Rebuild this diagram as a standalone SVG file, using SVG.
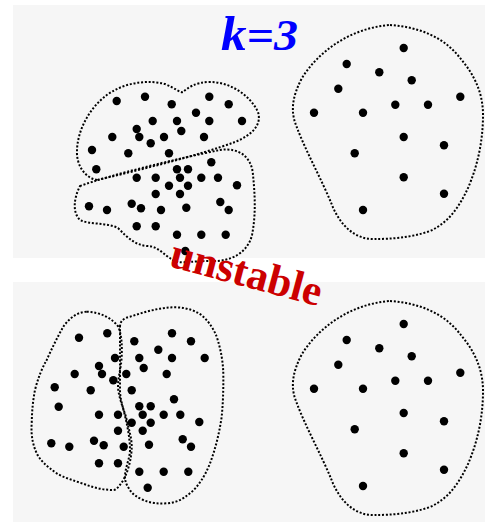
<svg xmlns="http://www.w3.org/2000/svg" xmlns:xlink="http://www.w3.org/1999/xlink" width="485" height="522" viewBox="0 0 485 522">
<style>
.panel{fill:#f6f6f6}
.hull{fill:none;stroke:#000;stroke-width:2;stroke-dasharray:2 1.8}
.pt circle{fill:#000}
.k{font-family:"Liberation Serif",serif;font-weight:bold;font-style:italic;fill:#0000ff}
.un{font-family:"Liberation Serif",serif;font-weight:bold;font-size:43px;fill:#cc0000}
</style>
<defs>
<g id="rightCluster">
<path class="hull" d="M390,25 C420,27 445,38 460,58 C472,72 483,90 483,115 C483,140 478,165 468,188 C460,205 450,222 430,231 C410,238 390,239 375,239 C355,240 340,225 332,205 C322,180 305,150 296,125 C290,110 293,95 302,78 C318,52 350,28 390,25 Z"/>
<g class="pt">
<circle cx="403.7" cy="48" r="4.2"/><circle cx="346.7" cy="64" r="4.2"/><circle cx="379.3" cy="72.3" r="4.2"/><circle cx="411.7" cy="80.3" r="4.2"/>
<circle cx="338.3" cy="88.7" r="4.2"/><circle cx="395.3" cy="104.7" r="4.2"/><circle cx="428" cy="104.7" r="4.2"/><circle cx="460.3" cy="96.7" r="4.2"/>
<circle cx="314" cy="112.7" r="4.2"/><circle cx="363" cy="112.7" r="4.2"/><circle cx="403.7" cy="137" r="4.2"/><circle cx="444" cy="145.3" r="4.2"/>
<circle cx="354.7" cy="153.3" r="4.2"/><circle cx="403.7" cy="177.3" r="4.2"/><circle cx="444" cy="193.7" r="4.2"/><circle cx="363" cy="210" r="4.2"/>
</g>
</g>
</defs>
<rect class="panel" x="13" y="5" width="472" height="253"/>
<rect class="panel" x="13" y="282" width="472" height="240"/>

<g id="top-left-clusters">
<path class="hull" d="M97,180 C85,178 76,165 77,150 C78,125 95,100 115,90 C130,82 150,80 165,84 C175,88 180,93 183,92 C188,88 195,82 210,82 C230,82 250,95 258,112 C262,125 252,135 235,142 C200,155 140,170 97,180 Z"/>
<path class="hull" d="M80,186 C110,175 180,158 220,150 C240,147 252,158 253,175 C255,195 256,215 252,235 C248,252 232,262 210,261 C195,261 185,263 178,262 C165,258 160,246 147,246 C135,245 128,238 118,228 C105,222 90,225 80,220 C72,212 74,198 80,186 Z"/>
<g class="pt">
<circle cx="116.7" cy="101" r="4.2"/><circle cx="145" cy="96.7" r="4.2"/><circle cx="171.7" cy="104.3" r="4.2"/><circle cx="209.3" cy="96.7" r="4.2"/>
<circle cx="228.7" cy="104.3" r="4.2"/><circle cx="196" cy="112.7" r="4.2"/><circle cx="152.7" cy="121" r="4.2"/><circle cx="177" cy="121" r="4.2"/>
<circle cx="209.3" cy="121" r="4.2"/><circle cx="242" cy="121" r="4.2"/><circle cx="136.7" cy="129" r="4.2"/><circle cx="181.3" cy="131" r="4.2"/>
<circle cx="112.3" cy="137" r="4.2"/><circle cx="139.3" cy="137" r="4.2"/><circle cx="164" cy="137" r="4.2"/><circle cx="204" cy="137" r="4.2"/>
<circle cx="150.7" cy="143.3" r="4.2"/><circle cx="92" cy="150" r="4.2"/><circle cx="128.3" cy="153.3" r="4.2"/><circle cx="169" cy="153.3" r="4.2"/>
<circle cx="96.3" cy="169.3" r="4.2"/>
<circle cx="211.3" cy="162.3" r="4.2"/><circle cx="177" cy="169.3" r="4.2"/><circle cx="188" cy="169.3" r="4.2"/><circle cx="136.7" cy="177.7" r="4.2"/>
<circle cx="155.7" cy="177.7" r="4.2"/><circle cx="180" cy="177.7" r="4.2"/><circle cx="201.3" cy="177.7" r="4.2"/><circle cx="218" cy="177.7" r="4.2"/>
<circle cx="237" cy="185.3" r="4.2"/><circle cx="169" cy="185.7" r="4.2"/><circle cx="188" cy="185.7" r="4.2"/><circle cx="155.7" cy="194" r="4.2"/>
<circle cx="180" cy="194" r="4.2"/><circle cx="89" cy="206.3" r="4.2"/><circle cx="107" cy="210" r="4.2"/><circle cx="131.7" cy="203.7" r="4.2"/>
<circle cx="141" cy="208.3" r="4.2"/><circle cx="161" cy="210" r="4.2"/><circle cx="186.3" cy="207.7" r="4.2"/><circle cx="220.3" cy="202" r="4.2"/>
<circle cx="228.7" cy="210" r="4.2"/><circle cx="136.7" cy="226.3" r="4.2"/><circle cx="155.7" cy="226.3" r="4.2"/><circle cx="177" cy="234.7" r="4.2"/>
<circle cx="201.3" cy="234.7" r="4.2"/><circle cx="225.7" cy="234.7" r="4.2"/><circle cx="185.3" cy="251" r="4.2"/>
</g>
</g>

<g id="top-right-cluster"><use xlink:href="#rightCluster" href="#rightCluster"/></g>

<g id="bottom-left-clusters">
<path class="hull" d="M86.7,311.7 C100,312 112,318 118.3,326.7 C122,336 122,346 121.7,356.7 C121,370 117,380 118.3,390 C120,402 125,412 126.7,420 C129,430 131.7,438 131.7,446.7 C131.7,456 129,470 123.3,480 C119,487 116,490 113.3,490 C104,490 95,488 86.7,485 C76,481 64,478 56.7,473.3 C46,466 40,460 36.7,453.3 C32,443 31,433 31.7,423.3 C32,410 33,400 35,390 C38,378 42,368 46.7,360 C52,348 58,336 63.3,326.7 C68,320 76,312 86.7,311.7 Z"/>
<path class="hull" d="M120,326.7 C120,321 124,318 130,316.7 C145,312 160,307 176.7,307.3 C188,308 197,311 203.3,316.7 C210,323 214,330 216.7,336.7 C221,350 223,362 223.3,373.3 C223.5,390 223,403 221.7,416.7 C219,435 215,450 210,463.3 C205,476 198,487 190,493.3 C182,500 175,503 166.7,503.3 C158,504 150,503 143.3,500 C137,497 132,494 130,490 C127,486 125,482 125,476.7 C125,468 130,458 130,450 C130,440 128,430 126.7,423.3 C124,410 120,400 120,390 C120,376 120,362 120,350 C120,340 120,332 120,326.7 Z"/>
<g class="pt">
<circle cx="79" cy="337.7" r="4.2"/><circle cx="107.3" cy="333.3" r="4.2"/><circle cx="134.3" cy="341.3" r="4.2"/><circle cx="172" cy="333.3" r="4.2"/>
<circle cx="191" cy="341.3" r="4.2"/><circle cx="158.3" cy="349.7" r="4.2"/><circle cx="115" cy="358" r="4.2"/><circle cx="139.3" cy="358" r="4.2"/>
<circle cx="172" cy="358" r="4.2"/><circle cx="204.7" cy="358" r="4.2"/><circle cx="99" cy="366" r="4.2"/><circle cx="143.7" cy="368" r="4.2"/>
<circle cx="74.7" cy="374" r="4.2"/><circle cx="102" cy="374" r="4.2"/><circle cx="126.3" cy="374" r="4.2"/><circle cx="166.7" cy="374" r="4.2"/>
<circle cx="113.3" cy="380.3" r="4.2"/><circle cx="54.7" cy="387.3" r="4.2"/><circle cx="90.7" cy="390.3" r="4.2"/><circle cx="131.7" cy="390.3" r="4.2"/>
<circle cx="58.7" cy="406.7" r="4.2"/><circle cx="174" cy="399.3" r="4.2"/><circle cx="139.3" cy="406.3" r="4.2"/><circle cx="150.7" cy="406.3" r="4.2"/>
<circle cx="99" cy="414.7" r="4.2"/><circle cx="118" cy="414.7" r="4.2"/><circle cx="142.7" cy="414.7" r="4.2"/><circle cx="163.7" cy="414.7" r="4.2"/>
<circle cx="180.3" cy="414.7" r="4.2"/><circle cx="199.3" cy="422" r="4.2"/><circle cx="131.7" cy="422.7" r="4.2"/><circle cx="150.7" cy="422.7" r="4.2"/>
<circle cx="118" cy="430.7" r="4.2"/><circle cx="142.7" cy="430.7" r="4.2"/><circle cx="51.3" cy="443.3" r="4.2"/><circle cx="69.3" cy="446.7" r="4.2"/>
<circle cx="94" cy="440.7" r="4.2"/><circle cx="103.7" cy="445.3" r="4.2"/><circle cx="123.7" cy="446.7" r="4.2"/><circle cx="149" cy="444.7" r="4.2"/>
<circle cx="182.7" cy="439.3" r="4.2"/><circle cx="191" cy="446.7" r="4.2"/><circle cx="99" cy="463.3" r="4.2"/><circle cx="118" cy="463.3" r="4.2"/>
<circle cx="139.3" cy="471.7" r="4.2"/><circle cx="163.7" cy="471.7" r="4.2"/><circle cx="188.3" cy="471.7" r="4.2"/><circle cx="147.7" cy="487.7" r="4.2"/>
</g>
</g>

<g id="bottom-right-cluster" transform="translate(0,276)"><use xlink:href="#rightCluster" href="#rightCluster"/></g>

<g id="labels">
<text class="k" x="221" y="50" textLength="77" lengthAdjust="spacingAndGlyphs"><tspan font-size="48">k</tspan><tspan font-size="45">=3</tspan></text>
<text class="un" transform="translate(168,266) rotate(15)">unstable</text>
</g>
</svg>
